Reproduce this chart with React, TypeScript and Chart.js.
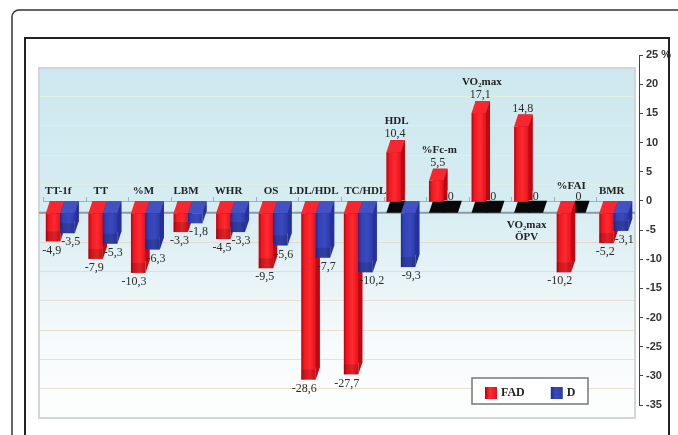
import React, { useEffect, useRef } from 'react';
import { Chart, registerables } from 'chart.js';

Chart.register(...registerables);

// ---- data ----
const categories: (string | string[])[] = [
  'TT-1f', 'TT', '%M', 'LBM', 'WHR', 'OS', 'LDL/HDL', 'TC/HDL', 'HDL', '%Fc-m',
  'VO₂max', ['VO₂max', 'ÖPV'], '%FAI', 'BMR',
];
const fadValues = [-4.9, -7.9, -10.3, -3.3, -4.5, -9.5, -28.6, -27.7, 10.4, 5.5, 17.1, 14.8, -10.2, -5.2];
const dValues = [-3.5, -5.3, -6.3, -1.8, -3.3, -5.6, -7.7, -10.2, -9.3, 0, 0, 0, 0, -3.1];
const seriesNames = ['FAD', 'D'];
const yMin = -35;
const yMax = 25;
const yStep = 5;

// ---- styling ----
const DX = 4;
const DY = 12;
const SERIF = "'Liberation Serif', 'Times New Roman', serif";
const palettes = [
  { back: '#b8000e', front: ['#b8000c', '#ee1820', '#ff2a30', '#e2121c'], top: '#f8262e', side: '#c00812' },
  { back: '#24309a', front: ['#1e2c96', '#3242b4', '#3a4abe', '#2c3aa8'], top: '#4252c2', side: '#24309c' },
];
const labelNudge: Record<number, number> = { 7: 9 };

const fmt = (v: number) => (v === 0 ? '0' : v.toFixed(1).replace('.', ','));

const chart3d = {
  id: 'chart3d',
  beforeDraw(chart: any) {
    const { ctx, chartArea: a, scales } = chart;
    const y = scales.y;
    ctx.save();
    ctx.fillStyle = '#ffffff';
    ctx.fillRect(0, 0, chart.width, chart.height);
    const L = a.left - DX, R = a.right - DX, T = a.top + DY + 1, B = a.bottom + DY + 1;
    const g = ctx.createLinearGradient(0, T, 0, B);
    g.addColorStop(0, '#cde8ee');
    g.addColorStop(0.4, '#d6edf2');
    g.addColorStop(0.62, '#e9f4f7');
    g.addColorStop(0.8, '#f7fbfc');
    g.addColorStop(1, '#fdfefe');
    ctx.fillStyle = g;
    ctx.fillRect(L, T, R - L, B - T);
    ctx.lineWidth = 1;
    for (let v = yMin + yStep; v < yMax; v += yStep) {
      const py = Math.round(y.getPixelForValue(v) + DY) + 0.5;
      ctx.strokeStyle = v > -5 ? 'rgba(225,240,225,0.9)' : 'rgba(228,208,180,0.6)';
      ctx.beginPath();
      ctx.moveTo(L, py);
      ctx.lineTo(R, py);
      ctx.stroke();
    }
    ctx.strokeStyle = '#d2d6d8';
    ctx.lineWidth = 2;
    ctx.strokeRect(L, T, R - L, B - T);
    ctx.restore();
  },
  beforeDatasetsDraw(chart: any) {
    const { ctx, chartArea: a, scales } = chart;
    const y0 = scales.y.getPixelForValue(0);
    ctx.save();
    ctx.strokeStyle = '#8a9aa6';
    ctx.lineWidth = 2;
    ctx.beginPath();
    ctx.moveTo(a.left - DX, y0 + DY);
    ctx.lineTo(a.right - DX, y0 + DY);
    ctx.stroke();
    ctx.strokeStyle = '#9cb2bf';
    ctx.lineWidth = 1;
    ctx.beginPath();
    ctx.moveTo(a.left, Math.round(y0) + 0.5);
    ctx.lineTo(a.right - DX - 4, Math.round(y0) + 0.5);
    const n = categories.length;
    const step = (a.right - a.left) / n;
    for (let i = 0; i < n; i++) {
      const x = Math.round(a.left + step * i) + 0.5;
      ctx.moveTo(x, Math.round(y0));
      ctx.lineTo(x, Math.round(y0) - 4);
    }
    ctx.stroke();
    ctx.restore();
  },
  afterDatasetsDraw(chart: any) {
    const { ctx, scales } = chart;
    const y0 = scales.y.getPixelForValue(0);
    const metas = [chart.getDatasetMeta(0), chart.getDatasetMeta(1)];
    const series = [fadValues, dValues];
    const n = categories.length;
    ctx.save();

    const geom = (k: number, i: number) => {
      const el = metas[k].data[i].getProps(['x', 'y', 'base', 'width'], true);
      const w = el.width;
      const fx = el.x - w / 2 - DX;
      const top = Math.min(el.y, el.base);
      const bot = Math.max(el.y, el.base);
      return { el, w, fx, fT: top + DY, fB: bot + DY };
    };

    for (let i = 0; i < n; i++) {
      for (let k = 0; k < 2; k++) {
        const v = series[k][i];
        if (v < 0) continue;
        const { w, fx } = geom(k, i);
        ctx.fillStyle = '#080808';
        ctx.beginPath();
        ctx.moveTo(fx, y0 + DY);
        ctx.lineTo(fx + w + (k === 1 ? 0 : 1), y0 + DY);
        ctx.lineTo(fx + w + DX + (k === 1 ? 0 : 1), y0);
        ctx.lineTo(fx + DX, y0);
        ctx.closePath();
        ctx.fill();
      }
    }

    for (let i = 0; i < n; i++) {
      for (let k = 0; k < 2; k++) {
        const v = series[k][i];
        if (v === 0) continue;
        const p = palettes[k];
        const { w, fx, fT, fB: fB0 } = geom(k, i);
        const fB = v > 0 ? y0 + 1 : fB0;
        ctx.fillStyle = p.side;
        ctx.beginPath();
        ctx.moveTo(fx + w, fT);
        ctx.lineTo(fx + w + DX, fT - DY);
        ctx.lineTo(fx + w + DX, fB - DY);
        ctx.lineTo(fx + w, fB);
        ctx.closePath();
        ctx.fill();
        ctx.fillStyle = p.top;
        ctx.beginPath();
        ctx.moveTo(fx, fT);
        ctx.lineTo(fx + w, fT);
        ctx.lineTo(fx + w + DX, fT - DY);
        ctx.lineTo(fx + DX, fT - DY);
        ctx.closePath();
        ctx.fill();
        const g = ctx.createLinearGradient(fx, 0, fx + w, 0);
        g.addColorStop(0, p.front[0]);
        g.addColorStop(0.2, p.front[1]);
        g.addColorStop(0.6, p.front[2]);
        g.addColorStop(1, p.front[3]);
        ctx.fillStyle = g;
        ctx.fillRect(fx, fT, w, fB - fT);
        if (v < 0 && fB - fT > 14) {
          ctx.fillStyle = 'rgba(0,0,0,0.14)';
          ctx.fillRect(fx, fB - 10, w, 10);
        }
      }
    }

    ctx.textBaseline = 'middle';
    ctx.fillStyle = '#2a2a2a';
    ctx.font = `12px ${SERIF}`;
    for (let i = 0; i < n; i++) {
      for (let k = 0; k < 2; k++) {
        const v = series[k][i];
        const { el, w, fx, fB } = geom(k, i);
        const txt = fmt(v);
        if (v < 0) {
          if (k === 0) {
            ctx.textAlign = 'right';
            ctx.fillText(txt, fx + w + 1, fB + 9);
          } else {
            ctx.textAlign = 'left';
            ctx.fillText(txt, fx + 1, fB + 9);
          }
        } else if (v === 0) {
          ctx.textAlign = 'center';
          ctx.fillText(txt, fx + w / 2, y0 - 4);
        } else {
          ctx.textAlign = 'center';
          ctx.fillText(txt, fx + w / 2 + 1.5, el.y - 6);
        }
      }
    }

    ctx.font = `bold 11px ${SERIF}`;
    ctx.fillStyle = '#222';
    ctx.textAlign = 'center';
    for (let i = 0; i < n; i++) {
      const lab = categories[i];
      const r = geom(0, i);
      const b = geom(1, i);
      const groupC = (r.fx + b.fx + b.w) / 2 + (labelNudge[i] || 0);
      if (Array.isArray(lab)) {
        lab.forEach((line, j) => ctx.fillText(line, groupC - 2, y0 + 24 + j * 12));
      } else if (fadValues[i] > 0) {
        ctx.fillText(lab, r.fx + r.w / 2 + 3, r.el.y - 19);
      } else if (dValues[i] === 0) {
        ctx.fillText(lab, groupC, y0 - 15);
      } else {
        ctx.fillText(lab, groupC - 2, y0 - 10);
      }
    }
    ctx.restore();
  },
  afterDraw(chart: any) {
    const { ctx, chartArea: a } = chart;
    ctx.save();
    const lx = a.right - 167, ly = a.bottom - 27, lw = 116, lh = 26;
    ctx.fillStyle = '#ffffff';
    ctx.fillRect(lx, ly, lw, lh);
    ctx.strokeStyle = '#777';
    ctx.lineWidth = 1.5;
    ctx.strokeRect(lx, ly, lw, lh);
    ctx.font = `bold 12px ${SERIF}`;
    ctx.textBaseline = 'middle';
    ctx.textAlign = 'left';
    let x = lx + 13;
    chart.data.datasets.forEach((ds: any, k: number) => {
      const p = palettes[k];
      const g = ctx.createLinearGradient(x, 0, x + 12, 0);
      g.addColorStop(0, p.front[0]);
      g.addColorStop(0.4, p.front[2]);
      g.addColorStop(1, p.front[3]);
      ctx.fillStyle = g;
      ctx.fillRect(x, ly + 9, 12, 12);
      ctx.fillStyle = '#222';
      ctx.fillText(ds.label, x + 16, ly + 15);
      x += 16 + ctx.measureText(ds.label).width + 26;
    });
    ctx.strokeStyle = '#333';
    ctx.lineWidth = 1.5;
    ctx.beginPath();
    ctx.moveTo(12, chart.height + 5);
    ctx.lineTo(12, 17);
    ctx.arcTo(12, 10, 19, 10, 7);
    ctx.lineTo(chart.width + 5, 10);
    ctx.stroke();
    ctx.strokeStyle = '#222';
    ctx.lineWidth = 2;
    ctx.beginPath();
    ctx.moveTo(25, chart.height + 5);
    ctx.lineTo(25, 38);
    ctx.lineTo(669, 38);
    ctx.lineTo(669, chart.height + 5);
    ctx.stroke();
    ctx.restore();
  },
};

export default function App() {
  const ref = useRef<HTMLCanvasElement | null>(null);
  useEffect(() => {
    if (!ref.current) return;
    const chart = new Chart(ref.current, {
      type: 'bar',
      data: {
        labels: categories as any,
        datasets: [
          { label: seriesNames[0], data: fadValues, backgroundColor: palettes[0].back, borderWidth: 0, categoryPercentage: 0.68, barPercentage: 1 },
          { label: seriesNames[1], data: dValues, backgroundColor: palettes[1].back, borderWidth: 0, categoryPercentage: 0.68, barPercentage: 1 },
        ],
      },
      options: {
        responsive: false,
        animation: false,
        devicePixelRatio: 1,
        layout: { padding: { left: 43, top: 55, bottom: 30, right: 0 } },
        plugins: { legend: { display: false }, tooltip: { enabled: false } },
        scales: {
          x: { display: false, offset: true },
          y: {
            position: 'right',
            min: yMin,
            max: yMax,
            afterFit: (s: any) => { s.width = 39; },
            grid: { drawOnChartArea: false, drawTicks: true, tickLength: 4, color: '#444' },
            border: { display: true, color: '#444', width: 1 },
            ticks: {
              stepSize: yStep,
              padding: 3,
              color: '#333',
              font: { family: "'Liberation Sans', Arial, sans-serif", size: 11, weight: 'bold' },
              callback: (v: any) => (Number(v) === yMax ? `${v} %` : `${v}`),
            },
          },
        },
      } as any,
      plugins: [chart3d],
    });
    return () => chart.destroy();
  }, []);
  return (
    <div style={{ position: 'absolute', left: 0, top: 0, width: 678, height: 435, background: '#fff' }}>
      <canvas ref={ref} width={678} height={435} style={{ display: 'block', width: 678, height: 435 }} />
    </div>
  );
}
